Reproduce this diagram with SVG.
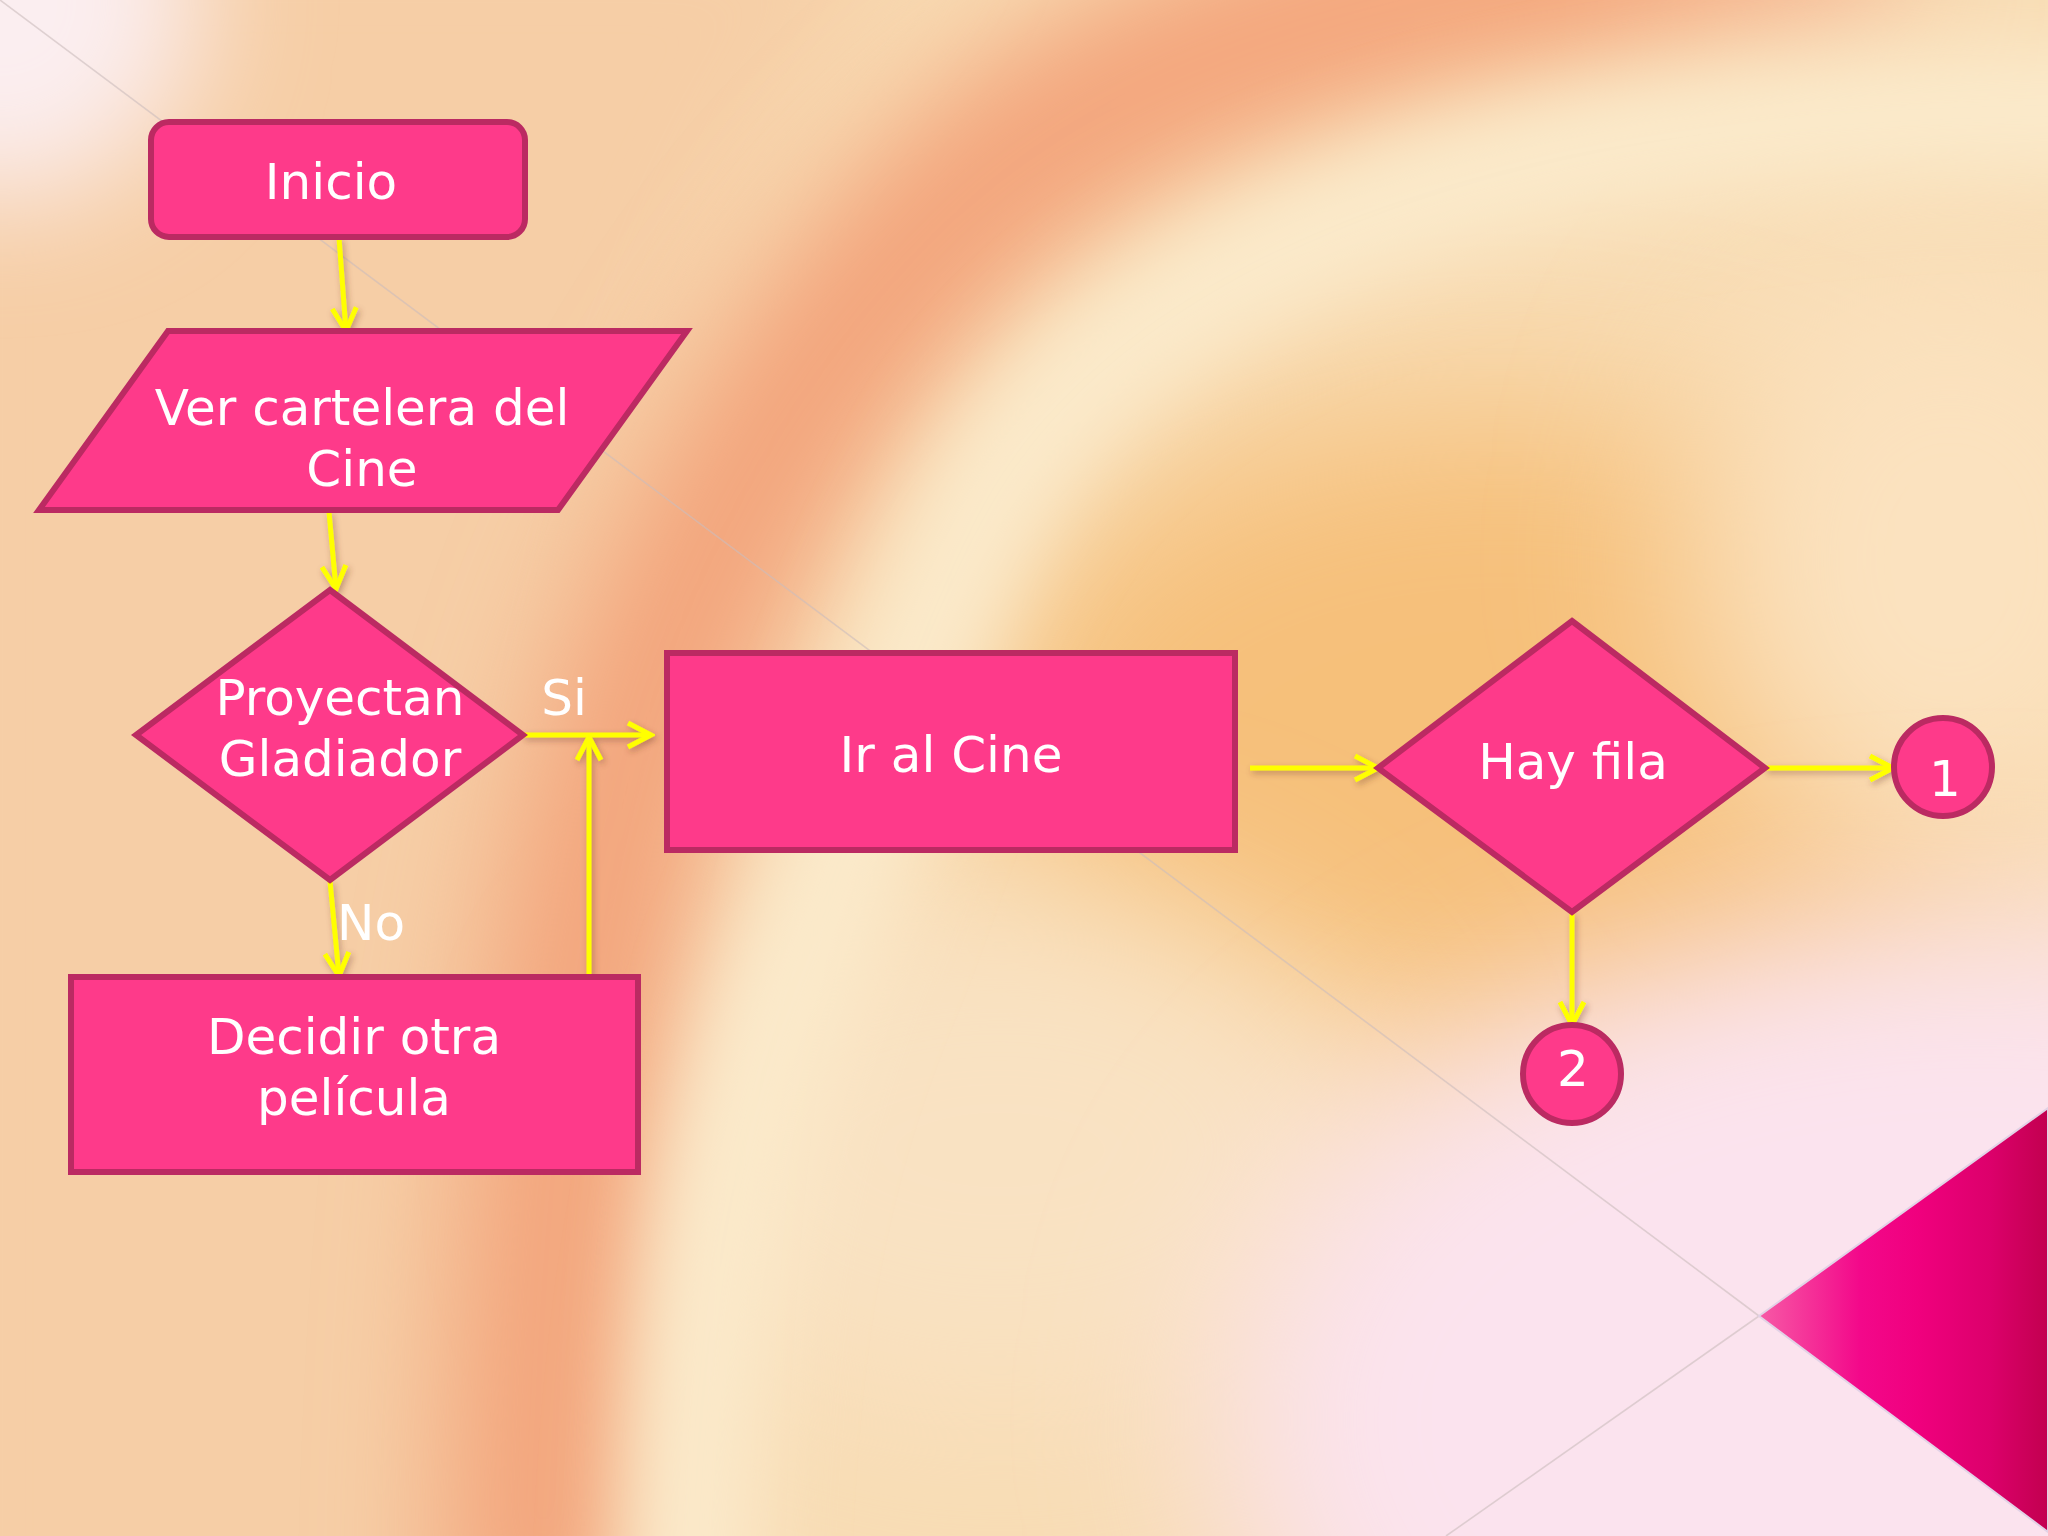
<svg xmlns="http://www.w3.org/2000/svg" width="2048" height="1536" viewBox="0 0 2048 1536">
  <defs>
    <filter id="b40" x="-50%" y="-50%" width="200%" height="200%"><feGaussianBlur stdDeviation="40"/></filter>
    <filter id="b60" x="-50%" y="-50%" width="200%" height="200%"><feGaussianBlur stdDeviation="60"/></filter>
    <filter id="b90" x="-50%" y="-50%" width="200%" height="200%"><feGaussianBlur stdDeviation="90"/></filter>
    <filter id="shadow" x="-20%" y="-20%" width="140%" height="140%">
      <feDropShadow dx="2" dy="3" stdDeviation="3" flood-color="#6b3a20" flood-opacity="0.4"/>
    </filter>
    <linearGradient id="tri" x1="1759" y1="0" x2="2048" y2="0" gradientUnits="userSpaceOnUse">
      <stop offset="0" stop-color="#f75aa6"/>
      <stop offset="0.35" stop-color="#f3088a"/>
      <stop offset="0.55" stop-color="#f0007e"/>
      <stop offset="0.8" stop-color="#dc006b"/>
      <stop offset="1" stop-color="#c2004f"/>
    </linearGradient>
    <linearGradient id="topband" x1="900" y1="0" x2="2048" y2="0" gradientUnits="userSpaceOnUse">
      <stop offset="0" stop-color="#f3a47b"/>
      <stop offset="0.6" stop-color="#f4a67c"/>
      <stop offset="1" stop-color="#f8cfb0"/>
    </linearGradient>
    <marker id="arr" viewBox="-28 -16 32 32" markerWidth="32" markerHeight="32" refX="0" refY="0" orient="auto" markerUnits="userSpaceOnUse">
      <path d="M-23,-12 L0,0 L-23,12" fill="none" stroke="#ffff00" stroke-width="5" stroke-linejoin="miter"/>
    </marker>
    <style>
      .node { fill: #fe3a8a; stroke: #bb2a62; stroke-width: 6; }
      .lbl { font-family: "DejaVu Sans", "Liberation Sans", sans-serif; font-size: 50px; font-weight: 400; fill: #ffffff; text-anchor: middle; }
      .conn { stroke: #ffff00; stroke-width: 5; fill: none; marker-end: url(#arr); }
      .thin { stroke: #cbbcbc; stroke-width: 1.6; opacity: 0.6; fill: none; }
    </style>
  </defs>

  <!-- background -->
  <g id="background">
    <rect x="0" y="0" width="2048" height="1536" fill="#f8dcb4"/>
    <path d="M-100,-100 L950,-100 C720,150 560,450 500,1700 L-100,1700 Z" fill="#f6cea6" filter="url(#b60)"/>
    <ellipse cx="1500" cy="740" rx="520" ry="330" fill="#f6c07a" filter="url(#b90)"/>
    <ellipse cx="1950" cy="560" rx="260" ry="300" fill="#fbe2bf" filter="url(#b90)"/>
    <ellipse cx="1000" cy="1150" rx="380" ry="260" fill="#f9e2c2" filter="url(#b90)"/>
    <ellipse cx="1980" cy="1420" rx="760" ry="500" fill="#fbe3ee" filter="url(#b90)"/>
    <path d="M540,1650 C545,1250 575,950 645,720 C715,500 845,300 1005,170 C1205,20 1500,-40 1900,-70" fill="none" stroke="url(#topband)" stroke-width="200" filter="url(#b60)"/>
    <path d="M690,1650 C695,1300 740,1100 820,920 C880,760 930,600 1000,480 C1120,300 1350,200 1600,150 C1800,115 1950,110 2150,110" fill="none" stroke="#fbeacb" stroke-width="130" filter="url(#b40)"/>
    <circle cx="0" cy="0" r="200" fill="#fbeef0" filter="url(#b60)"/>
    <line class="thin" x1="0" y1="0" x2="1759" y2="1316"/>
    <line class="thin" x1="1759" y1="1316" x2="1446" y2="1536"/>
    <polygon points="2048,1108 1759,1316 2048,1532" fill="url(#tri)" stroke="#e2d2e6" stroke-width="2"/>
  </g>

  <!-- connectors -->
  <g id="connectors" filter="url(#shadow)">
    <line class="conn" x1="339" y1="238" x2="346" y2="331"/>
    <line class="conn" x1="329" y1="512" x2="336" y2="589"/>
    <line class="conn" x1="330" y1="881" x2="339" y2="976"/>
    <line class="conn" x1="523" y1="735" x2="651" y2="735"/>
    <line class="conn" x1="589" y1="977" x2="589" y2="737"/>
    <line class="conn" x1="1250" y1="768" x2="1378" y2="768"/>
    <line class="conn" x1="1765" y1="768" x2="1893" y2="768"/>
    <line class="conn" x1="1572" y1="913" x2="1572" y2="1025"/>
  </g>

  <!-- nodes -->
  <g id="inicio">
    <rect class="node" x="151" y="122" width="374" height="115" rx="18" ry="18"/>
    <text class="lbl" x="331" y="199">Inicio</text>
  </g>
  <g id="ver-cartelera">
    <polygon class="node" points="168,331 687,331 558,510 39,510"/>
    <text class="lbl" x="362" y="425">Ver cartelera del</text>
    <text class="lbl" x="362" y="486">Cine</text>
  </g>
  <g id="proyectan">
    <polygon class="node" points="330,590 523,735 330,880 136,735"/>
    <text class="lbl" x="340" y="715">Proyectan</text>
    <text class="lbl" x="340" y="776">Gladiador</text>
  </g>
  <g id="label-si">
    <text class="lbl" x="564" y="715">Si</text>
  </g>
  <g id="label-no">
    <text class="lbl" x="371" y="940">No</text>
  </g>
  <g id="decidir">
    <rect class="node" x="71" y="977" width="567" height="195"/>
    <text class="lbl" x="354" y="1054">Decidir otra</text>
    <text class="lbl" x="354" y="1115">película</text>
  </g>
  <g id="ir-al-cine">
    <rect class="node" x="667" y="653" width="568" height="197"/>
    <text class="lbl" x="951" y="772">Ir al Cine</text>
  </g>
  <g id="hay-fila">
    <polygon class="node" points="1572,621 1765,768 1572,912 1378,768"/>
    <text class="lbl" x="1573" y="779">Hay fila</text>
  </g>
  <g id="conector-1">
    <circle class="node" cx="1943" cy="767" r="49"/>
    <text class="lbl" x="1945" y="796">1</text>
  </g>
  <g id="conector-2">
    <circle class="node" cx="1572" cy="1074" r="49"/>
    <text class="lbl" x="1573" y="1086">2</text>
  </g>
</svg>
